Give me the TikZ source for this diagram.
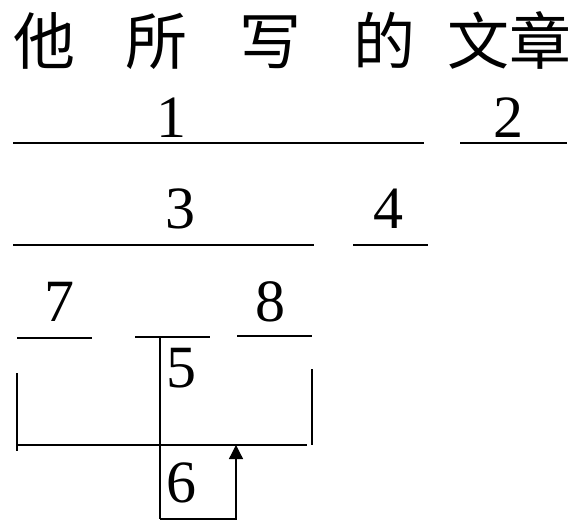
\documentclass[tikz,border=0pt]{standalone}
\usepackage{fontspec}
\setmainfont{Liberation Serif}
\newfontfamily\cjk{Noto Sans CJK SC}
\usetikzlibrary{arrows.meta,positioning}

\begin{document}
\begin{tikzpicture}
[x=1pt,y=-1pt,>={Triangle[width=14pt,length=14pt]},line width=1.3pt,
 word/.style = {anchor=base, inner sep=0pt, font=\cjk\fontsize{62}{72}\selectfont},
 num/.style = {anchor=base, inner sep=0pt, font=\fontsize{60}{70}\selectfont},]
\useasboundingbox (0,0) rectangle (578,521);
% the sentence
\node (ta) at (44,65)[word] {他};
\node (suo) at (156,65)[word] {所};
\node (xie) at (270,65)[word] {写};
\node (de) at (384,65)[word] {的};
\node (wz) at (509,65)[word] {文章};
% numbers
\node (n1) at (171,138)[num] {1};
\node (n2) at (508,138)[num] {2};
\node (n3) at (180,229)[num] {3};
\node (n4) at (388,229)[num] {4};
\node (n7) at (59,321)[num] {7};
\node (n8) at (270,321)[num] {8};
\node (n5) at (181,387)[num] {5};
\node (n6) at (181,502)[num] {6};
% line ends
\coordinate (a1) at (13,143);
\coordinate (b1) at (424,143);
\coordinate (a2) at (460,143);
\coordinate (b2) at (567,143);
\coordinate (a3) at (13,245);
\coordinate (b3) at (314,245);
\coordinate (a4) at (353,245);
\coordinate (b4) at (428,245);
\coordinate (a7) at (17,338);
\coordinate (b7) at (92,338);
\coordinate (a5) at (135,337);
\coordinate (b5) at (210,337);
\coordinate (a8) at (237,336);
\coordinate (b8) at (312,336);
\coordinate (top) at (160,337);
\coordinate (mid) at (160,445);
\coordinate (bot) at (160,519);
\coordinate (lt) at (17,373);
\coordinate (lb) at (17,451);
\coordinate (rt) at (312,369);
\coordinate (rb) at (312,445);
\coordinate (hl) at (17,445);
\coordinate (hr) at (307,445);
\coordinate (cb) at (236,519);
\coordinate (ct) at (236,445);
\draw (a1)--(b1);
\draw (a2)--(b2);
\draw (a3)--(b3);
\draw (a4)--(b4);
\draw (a7)--(b7);
\draw (a5)--(b5);
\draw (a8)--(b8);
\draw (top)--(bot);
\draw (lt)--(lb);
\draw (rt)--(rb);
\draw (hl)--(hr);
\draw[->] (bot)--(cb)--(ct);
\end{tikzpicture}
\end{document}
